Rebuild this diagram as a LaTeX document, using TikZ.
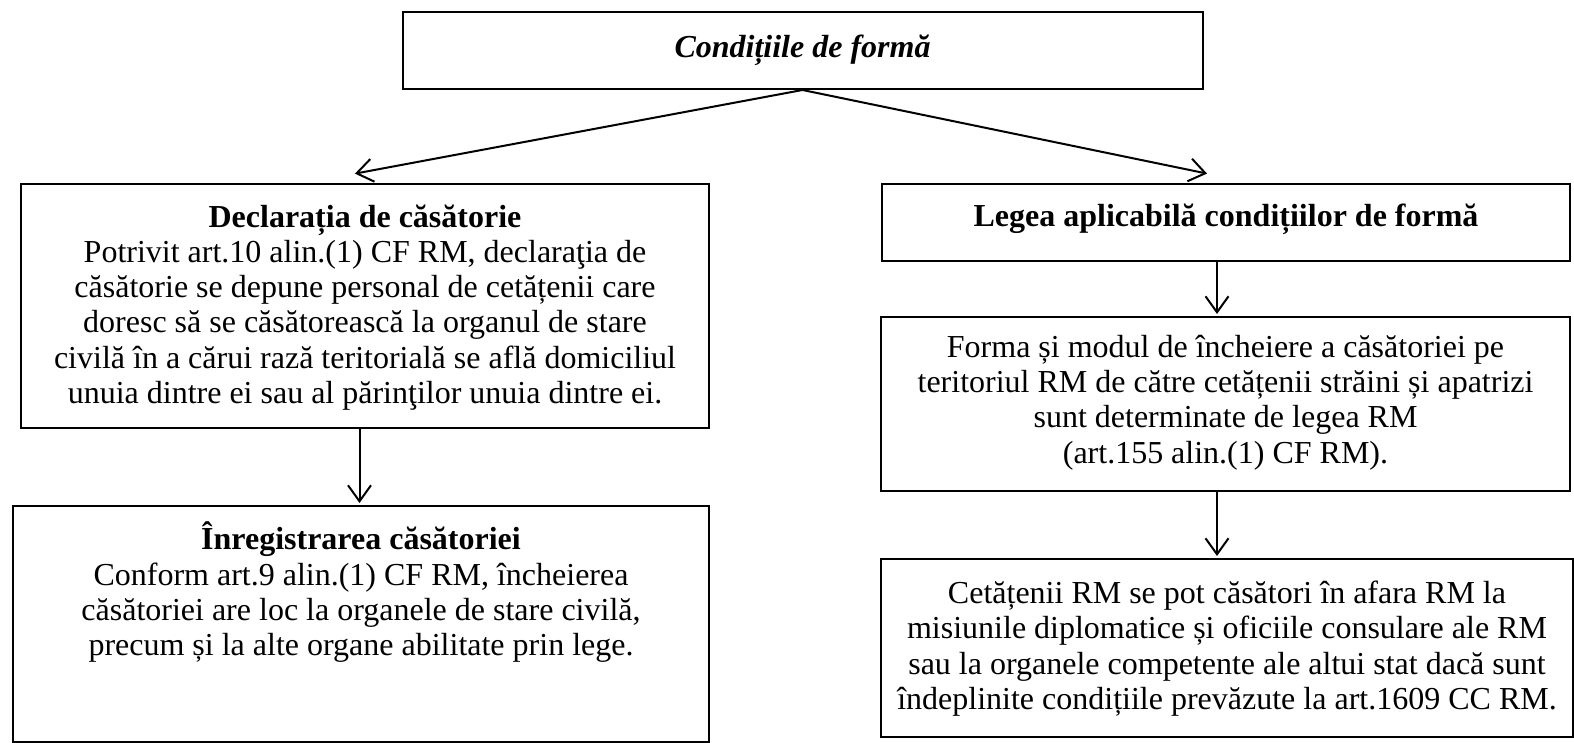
\documentclass[tikz,border=0pt]{standalone}
\usepackage{fontspec}
\setmainfont{Liberation Serif}
\usetikzlibrary{arrows.meta}
\tikzset{
  box/.style={draw, line width=2pt, inner sep=0pt, anchor=north west},
  txt/.style={inner sep=0pt, anchor=north, align=center, font=\fontsize{32}{35.2}\selectfont},
  conn/.style={line width=2pt, shorten >=2pt, -{Straight Barb[length=16pt,width=23pt,line width=2pt]}}
}
\begin{document}
\begin{tikzpicture}[x=1pt,y=-1pt]
\useasboundingbox (0,0) rectangle (1574,743);
% boxes
\node[box, minimum width=800pt, minimum height=77pt] (top) at (401.5,11) {};
\node[box, minimum width=688pt, minimum height=243pt] (L1) at (20,183.5) {};
\node[box, minimum width=696pt, minimum height=236pt] (L2) at (12,505) {};
\node[box, minimum width=688pt, minimum height=77pt] (R1) at (881,183.5) {};
\node[box, minimum width=689pt, minimum height=174pt] (R2) at (880,316) {};
\node[box, minimum width=692pt, minimum height=178pt] (R3) at (880,558) {};
% texts
\node[txt] (topt) at ([yshift=-24pt]top.north) {\textbf{\textit{Condițiile de formă}}};
\node[txt] (L1t) at ([yshift=-21pt]L1.north) {\textbf{Declarația de căsătorie}\\
Potrivit art.10 alin.(1) CF RM, declaraţia de\\
căsătorie se depune personal de cetățenii care\\
doresc să se căsătorească la organul de stare\\
civilă în a cărui rază teritorială se află domiciliul\\
unuia dintre ei sau al părinţilor unuia dintre ei.};
\node[txt] (L2t) at ([yshift=-17pt]L2.north) {\textbf{Înregistrarea căsătoriei}\\
Conform art.9 alin.(1) CF RM, încheierea\\
căsătoriei are loc la organele de stare civilă,\\
precum și la alte organe abilitate prin lege.};
\node[txt] (R1t) at ([yshift=-20pt]R1.north) {\textbf{Legea aplicabilă condițiilor de formă}};
\node[txt] (R2t) at ([yshift=-19pt]R2.north) {Forma și modul de încheiere a căsătoriei pe\\
teritoriul RM de către cetățenii străini și apatrizi\\
sunt determinate de legea RM\\
(art.155 alin.(1) CF RM).};
\node[txt] (R3t) at ([yshift=-23pt]R3.north) {Cetățenii RM se pot căsători în afara RM la\\
misiunile diplomatice și oficiile consulare ale RM\\
sau la organele competente ale altui stat dacă sunt\\
îndeplinite condițiile prevăzute la art.1609 CC RM.};
% connectors
\coordinate (tl) at (353,174);
\coordinate (tr) at (1209,174);
\draw[conn] (top.south) -- (tl);
\draw[conn] (top.south) -- (tr);
\draw[conn] (L1.south -| 359.5,0) -- (L2.north -| 359.5,0);
\draw[conn] (R1.south -| 1217,0) -- (R2.north -| 1217,0);
\draw[conn] (R2.south -| 1217,0) -- (R3.north -| 1217,0);
\end{tikzpicture}
\end{document}
